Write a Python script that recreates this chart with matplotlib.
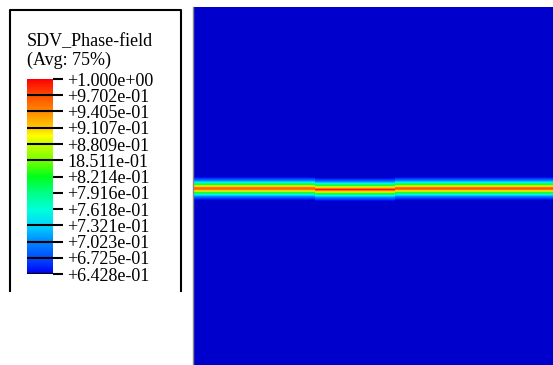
import matplotlib
matplotlib.use("Agg")
import matplotlib.pyplot as plt
import numpy as np
from matplotlib.colors import LinearSegmentedColormap, Normalize
from matplotlib.colorbar import Colorbar
from matplotlib.lines import Line2D

# legend levels (SDV_Phase-field, Avg: 75%)
levels = [0.6428, 0.6725, 0.7023, 0.7321, 0.7618, 0.7916, 0.8214,
          0.8511, 0.8809, 0.9107, 0.9405, 0.9702, 1.0]
labels = ["+6.428e-01", "+6.725e-01", "+7.023e-01", "+7.321e-01", "+7.618e-01",
          "+7.916e-01", "+8.214e-01", "18.511e-01", "+8.809e-01", "+9.107e-01",
          "+9.405e-01", "+9.702e-01", "+1.000e+00"]
# ticks drawn across the bar (others only outside)
across = [0.6428, 0.6725, 0.7023, 0.7321, 0.8511, 0.8809, 0.9107, 0.9405, 0.9702]

# field: band profile (value vs pixel distance from band centre)
profile = [0.975, 0.95, 0.91, 0.87, 0.83, 0.79, 0.755, 0.725, 0.70, 0.68, 0.665, 0.65, 0.64]
background = 0.60
# segments along x (pixel columns of field, 0..360): start, end, centre row (from top), peak
seg_start = [0, 122, 202]
seg_end = [122, 202, 360]
seg_centre = [181, 182, 181]
seg_peak = [0.96, 0.995, 0.97]

nodes = [(0.0, (0.0, 0.0, 0.95)), (0.08, (0.0, 0.3, 1.0)), (0.17, (0.0, 0.55, 1.0)),
         (0.25, (0.0, 0.85, 1.0)), (0.33, (0.0, 1.0, 0.85)), (0.42, (0.0, 1.0, 0.5)),
         (0.5, (0.0, 1.0, 0.1)), (0.58, (0.45, 1.0, 0.0)), (0.67, (0.8, 1.0, 0.0)),
         (0.71, (1.0, 1.0, 0.0)), (0.75, (1.0, 0.8, 0.0)), (0.83, (1.0, 0.55, 0.0)),
         (0.92, (1.0, 0.3, 0.0)), (1.0, (1.0, 0.0, 0.0))]
cmap = LinearSegmentedColormap.from_list("abq", nodes, N=256)
cmap.set_under((0.0, 0.0, 0.8))
norm = Normalize(vmin=levels[0], vmax=levels[-1])

W, H = 553, 365
fig = plt.figure(figsize=(W / 100, H / 100), dpi=100)


def box(l, t, r, b):
    return [l / W, 1 - b / H, (r - l) / W, (b - t) / H]


# contour field
field = np.full((358, 360), background)
for s, e, c, pk in zip(seg_start, seg_end, seg_centre, seg_peak):
    for i, v in enumerate(profile):
        vv = pk if i == 0 else v
        field[c - i, s:e] = vv
        field[c + i, s:e] = vv
ax = fig.add_axes(box(193, 7, 553, 365))
ax.imshow(field, cmap=cmap, norm=norm, aspect="auto", interpolation="nearest")
ax.set_xticks([])
ax.set_yticks([])
for sp in ax.spines.values():
    sp.set_visible(False)
ax.spines["left"].set_visible(True)
ax.spines["left"].set_color("#888888")
ax.spines["left"].set_linewidth(1)

# legend colour bar
cax = fig.add_axes(box(27, 79, 53, 274))
cb = Colorbar(cax, cmap=cmap, norm=norm, orientation="vertical")
cb.outline.set_visible(False)
cb.set_ticks(levels)
cb.set_ticklabels(labels)
cax.tick_params(axis="y", length=7.5, width=1.5, pad=3, labelsize=13)
for t in cax.get_yticklabels():
    t.set_fontfamily("Liberation Serif")
for v in across:
    cax.axhline(v, color="black", lw=1.5)

fig.text(27 / W, 1 - 46 / H, "SDV_Phase-field", fontsize=13,
         family="Liberation Serif", ha="left", va="baseline")
fig.text(27 / W, 1 - 65 / H, "(Avg: 75%)", fontsize=13,
         family="Liberation Serif", ha="left", va="baseline")

# legend frame (open at the bottom)
xs = [10 / W, 10 / W, 181 / W, 181 / W]
ys = [1 - 291 / H, 1 - 10 / H, 1 - 10 / H, 1 - 291 / H]
fig.add_artist(Line2D(xs, ys, color="black", lw=1.5))

fig.savefig("out.png", dpi=100)
